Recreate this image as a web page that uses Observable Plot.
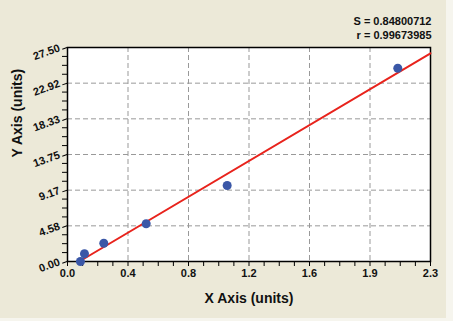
<!DOCTYPE html>
<html><head><meta charset="utf-8">
<script src="https://cdn.jsdelivr.net/npm/d3@7"></script>
<script src="https://cdn.jsdelivr.net/npm/@observablehq/plot@0.6"></script>
<style>
html,body{margin:0;padding:0;background:#f6f5ee;}
#chart svg{display:block;}
</style></head><body><div id="chart"></div>
<script>
const xValues = [0.083, 0.109, 0.233, 0.505, 1.025, 2.12];
const yValues = [0.0, 0.99, 2.35, 4.85, 9.77, 24.84];
const fitX = [0.076, 2.33];
const fitY = [0.0, 26.75];
const xTickLabels = ["0.0", "0.4", "0.8", "1.2", "1.6", "1.9", "2.3"];
const yTickLabels = ["0.00", "4.58", "9.17", "13.75", "18.33", "22.92", "27.50"];
const xMax = 2.33;
const yMax = 27.5;
const statsLines = ["S = 0.84800712", "r = 0.99673985"];
const xTitle = "X Axis (units)";
const yTitle = "Y Axis (units)";

const points = xValues.map((x, i) => ({x, y: yValues[i]}));
const fit = fitX.map((x, i) => ({x, y: fitY[i]}));
const n = xTickLabels.length - 1;
const xTicks = xTickLabels.map((_, i) => i * xMax / n);
const yTicks = yTickLabels.map((_, i) => i * yMax / n);
const xMinor = d3.range(n * 4 + 1).filter(i => i % 4).map(i => i * xMax / (n * 4));
const yMinor = d3.range(n * 4 + 1).filter(i => i % 4).map(i => i * yMax / (n * 4));
const xGrid = xTicks.slice(1, -1);
const yGrid = yTicks.slice(1, -1);
const xFmt = d => xTickLabels[Math.round(d / xMax * n)];
const yFmt = d => yTickLabels[Math.round(d / yMax * n)];

const font = "'Liberation Sans', Arial, sans-serif";
const chart = Plot.plot({
  width: 446,
  height: 318,
  marginLeft: 67,
  marginRight: 16,
  marginTop: 47,
  marginBottom: 57,
  style: {background: "#ECE9D8", fontFamily: font, fontWeight: "bold", fontSize: "11px", color: "#111"},
  x: {domain: [0, xMax], label: null},
  y: {domain: [0, yMax], label: null},
  marks: [
    Plot.frame({fill: "white", stroke: null}),
    Plot.gridX(xGrid, {stroke: "#999", strokeOpacity: 1, strokeDasharray: "5,3"}),
    Plot.gridY(yGrid, {stroke: "#999", strokeOpacity: 1, strokeDasharray: "5,3"}),
    Plot.axisX(xMinor, {tickSize: 5, tickFormat: () => "", stroke: "black"}),
    Plot.axisY(yMinor, {tickSize: 5, tickFormat: () => "", stroke: "black"}),
    Plot.axisX(xTicks, {tickSize: 5, tickPadding: 3, tickFormat: xFmt, stroke: "black", fill: "#111", fontSize: 11, fontWeight: "bold"}),
    Plot.axisY(yTicks, {tickSize: 5, tickPadding: 3, tickFormat: yFmt, rotate: -20, textAnchor: "end", stroke: "black", fill: "#111", fontSize: 11, fontWeight: "bold"}),
    Plot.frame({stroke: "black", strokeWidth: 1.5}),
    Plot.line(fit, {x: "x", y: "y", stroke: "#E8231C", strokeWidth: 2}),
    Plot.dot(points, {x: "x", y: "y", r: 4.5, fill: "#3A57A7", stroke: null}),
    Plot.text([xTitle], {text: d => d, frameAnchor: "bottom", dy: 41, fontSize: 14, fontWeight: "bold", fill: "#111"}),
    Plot.text([yTitle], {text: d => d, frameAnchor: "left", rotate: -90, dx: -49.5, dy: 3, fontSize: 14, fontWeight: "bold", fill: "#111"}),
    Plot.text([statsLines[0]], {text: d => d, frameAnchor: "top-right", textAnchor: "end", dx: 1, dy: -30, fontSize: 11, fontWeight: "bold", fill: "#111"}),
    Plot.text([statsLines[1]], {text: d => d, frameAnchor: "top-right", textAnchor: "end", dx: 1, dy: -16, fontSize: 11, fontWeight: "bold", fill: "#111"})
  ]
});
document.getElementById("chart").appendChild(chart);
</script></body></html>
